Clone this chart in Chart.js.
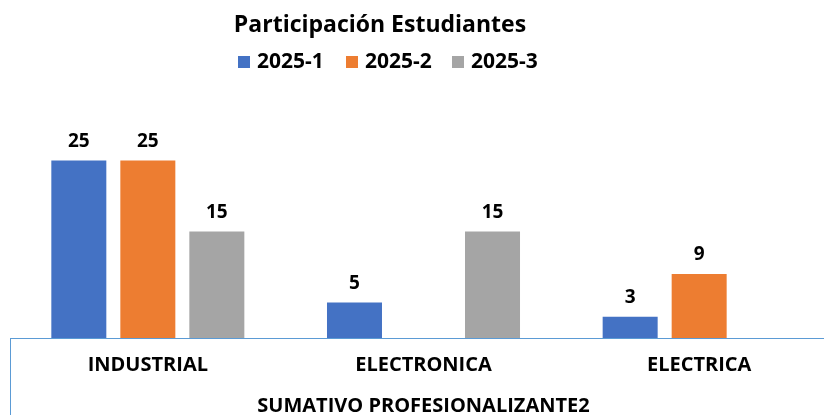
<!DOCTYPE html>
<html>
<head>
<meta charset="utf-8">
<script src="https://cdn.jsdelivr.net/npm/chart.js@4/dist/chart.umd.min.js"></script>
<style>
  body { margin: 0; overflow: hidden; background: #fff; }
  #wrap { width: 848px; height: 415px; }
</style>
</head>
<body>
<div id="wrap"><canvas id="chart"></canvas></div>
<script>
// data
const categories = ["INDUSTRIAL", "ELECTRONICA", "ELECTRICA"];
const periods = ["2025-1", "2025-2", "2025-3"];
const serie1 = [25, 5, 3];
const serie2 = [25, null, 9];
const serie3 = [15, 15, null];
const colors = ["#4472C4", "#ED7D31", "#A5A5A5"];

const FONT = "'Open Sans'";

// title + legend drawn at the top (offset like the original)
const headerPlugin = {
  id: "header",
  afterDraw(chart) {
    const ctx = chart.ctx;
    ctx.save();
    ctx.fillStyle = "#000";
    ctx.textBaseline = "alphabetic";
    ctx.font = "bold 23px " + FONT;
    ctx.textAlign = "center";
    ctx.fillText("Participación Estudiantes", 380, 32);

    ctx.font = "bold 21px " + FONT;
    ctx.textAlign = "left";
    const xs = [238, 346, 452];
    chart.data.datasets.forEach((ds, i) => {
      ctx.fillStyle = ds.backgroundColor;
      ctx.fillRect(xs[i], 56, 12, 12);
      ctx.fillStyle = "#000";
      ctx.fillText(ds.label, xs[i] + 19, 68);
    });
    ctx.restore();
  }
};

// value labels above bars and the frame line on the left
const labelsPlugin = {
  id: "valueLabels",
  afterDatasetsDraw(chart) {
    const ctx = chart.ctx;
    ctx.save();
    ctx.font = "bold 19px " + FONT;
    ctx.fillStyle = "#000";
    ctx.textAlign = "center";
    ctx.textBaseline = "alphabetic";
    chart.data.datasets.forEach((ds, i) => {
      chart.getDatasetMeta(i).data.forEach((bar, j) => {
        if (ds.data[j] == null) return;
        ctx.fillText(ds.data[j], bar.x, bar.y - 14);
      });
    });
    const area = chart.chartArea;
    ctx.strokeStyle = "#5B9BD5";
    ctx.lineWidth = 1;
    ctx.beginPath();
    ctx.moveTo(area.left + 0.5, area.bottom);
    ctx.lineTo(area.left + 0.5, chart.height);
    ctx.stroke();
    ctx.restore();
  }
};

new Chart(document.getElementById("chart"), {
  type: "bar",
  data: {
    labels: categories,
    datasets: [
      { label: periods[0], data: serie1, backgroundColor: colors[0] },
      { label: periods[1], data: serie2, backgroundColor: colors[1] },
      { label: periods[2], data: serie3, backgroundColor: colors[2] },
    ],
  },
  options: {
    responsive: true,
    maintainAspectRatio: false,
    animation: false,
    categoryPercentage: 0.751,
    barPercentage: 0.797,
    layout: { padding: { left: 10, right: 11, top: 125, bottom: 0 } },
    plugins: {
      legend: { display: false },
      title: { display: false },
      tooltip: { enabled: false },
    },
    scales: {
      y: { display: false, min: 0, max: 30 },
      x: {
        grid: { display: false, drawTicks: false },
        border: { display: true, color: "#5B9BD5", width: 1 },
        ticks: {
          color: "#000",
          padding: 15,
          font: { family: FONT, size: 20, weight: "bold" },
        },
        title: {
          display: true,
          text: "SUMATIVO PROFESIONALIZANTE2",
          color: "#000",
          padding: { top: 2, bottom: -3 },
          font: { family: FONT, size: 20, weight: "bold" },
        },
      },
    },
  },
  plugins: [headerPlugin, labelsPlugin],
});
</script>
</body>
</html>
